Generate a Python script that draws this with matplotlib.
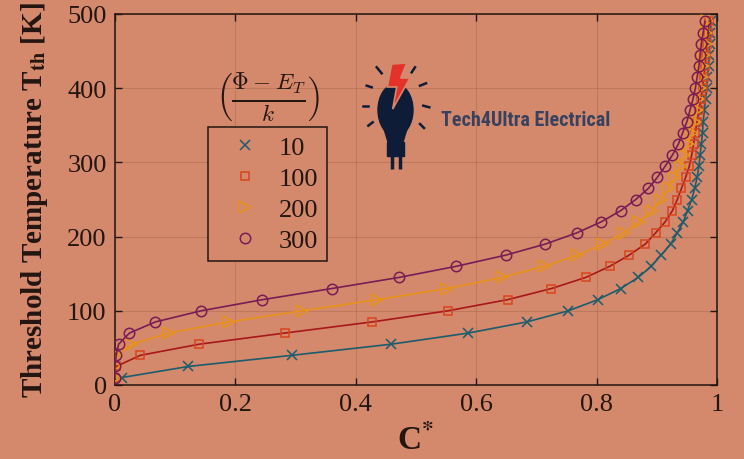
import numpy as np
import matplotlib
matplotlib.use("Agg")
import matplotlib.pyplot as plt
from matplotlib.lines import Line2D
from matplotlib.patches import Ellipse, Polygon, Rectangle

# threshold temperature grid (K), one marker per value
temps = [10, 25, 40, 55, 70, 85, 100, 115, 130, 145, 160, 175, 190, 205, 220, 235, 250,
         265, 280, 295, 310, 325, 340, 355, 370, 385, 400, 415, 430, 445, 460, 475, 490]

# C* for each (Phi - E_T)/k value
c_10 = [0.011, 0.122, 0.294, 0.459, 0.587, 0.684, 0.753, 0.802, 0.840, 0.869, 0.891,
        0.907, 0.923, 0.934, 0.944, 0.951, 0.958, 0.963, 0.967, 0.970, 0.972, 0.974,
        0.976, 0.977, 0.979, 0.981, 0.983, 0.984, 0.986, 0.987, 0.988, 0.989, 0.990]
c_100 = [0.000, 0.002, 0.042, 0.140, 0.282, 0.427, 0.553, 0.652, 0.725, 0.782, 0.822,
         0.854, 0.881, 0.898, 0.914, 0.926, 0.934, 0.941, 0.948, 0.954, 0.958, 0.961,
         0.964, 0.967, 0.970, 0.973, 0.976, 0.978, 0.980, 0.982, 0.984, 0.985, 0.987]
c_200 = [0.000, 0.000, 0.002, 0.028, 0.089, 0.189, 0.310, 0.436, 0.552, 0.643, 0.713,
         0.768, 0.811, 0.845, 0.871, 0.892, 0.907, 0.921, 0.931, 0.940, 0.946, 0.952,
         0.958, 0.963, 0.966, 0.969, 0.972, 0.975, 0.977, 0.979, 0.981, 0.982, 0.984]
c_300 = [0.000, 0.000, 0.002, 0.006, 0.024, 0.067, 0.143, 0.245, 0.360, 0.472, 0.567,
         0.649, 0.715, 0.767, 0.808, 0.840, 0.865, 0.886, 0.901, 0.914, 0.926, 0.936,
         0.943, 0.950, 0.955, 0.960, 0.964, 0.967, 0.970, 0.972, 0.974, 0.977, 0.980]

labels = ["10", "100", "200", "300"]
x_ticks = [0, 0.2, 0.4, 0.6, 0.8, 1]
y_ticks = [0, 100, 200, 300, 400, 500]

bg = "#d4896c"
ink = "#231510"
series = [
    (c_10, "x", "#1c5c6c", "#1c5c6c", 7),
    (c_100, "s", "#d8441c", "#a8171a", 6),
    (c_200, ">", "#e8921a", "#e8921a", 8.5),
    (c_300, "o", "#7a1c55", "#7a1c55", 7.5),
]

plt.rcParams["font.family"] = ["Liberation Serif", "DejaVu Serif"]
plt.rcParams["mathtext.fontset"] = "stix"

fig = plt.figure(figsize=(7.44, 4.6), dpi=100, facecolor=bg)
ax = fig.add_axes([115 / 744, 1 - 386 / 460, 602 / 744, 371 / 460], facecolor=bg)

for c, m, mcol, lcol, ms in series:
    ax.plot(c, temps, color=lcol, lw=1.2, marker=m, ms=ms, mec=mcol, mfc="none",
            mew=1.1, zorder=3)

ax.set_xlim(0, 1)
ax.set_ylim(0, 500)
ax.set_xticks(x_ticks)
ax.set_xticklabels(["0", "0.2", "0.4", "0.6", "0.8", "1"])
ax.set_yticks(y_ticks)
ax.tick_params(direction="in", length=5, width=1, labelsize=19, colors=ink,
               top=True, right=True, pad=6)
for s in ax.spines.values():
    s.set_color(ink)
    s.set_linewidth(1.1)
ax.grid(True, color="#a9654c", lw=0.8, alpha=0.45, zorder=0)
ax.set_axisbelow(True)

ax.set_xlabel(r"C$^{\mathbf{*}}$", fontsize=24, fontweight="bold", color=ink, labelpad=6)
ax.set_ylabel(r"Threshold Temperature T$_{\mathbf{th}}$ [K]", fontsize=21,
              fontweight="bold", color=ink, labelpad=12)

handles = [Line2D([], [], ls="none", marker=m, ms=ms, mec=mcol, mfc="none", mew=1.1)
           for c, m, mcol, lcol, ms in series]
leg = ax.legend(handles, labels, loc="upper left", bbox_to_anchor=(0.1545, 0.695),
                borderaxespad=0, fancybox=False, framealpha=1, facecolor=bg,
                edgecolor=ink, fontsize=19, borderpad=0.33, handlelength=2.15,
                handletextpad=0.2, labelspacing=0.28)
leg.get_frame().set_linewidth(1.1)
for t in leg.get_texts():
    t.set_color(ink)

fig.text(268 / 744, 1 - 98 / 460, r"$\left(\frac{\Phi - E_T}{k}\right)$",
         fontsize=24, ha="center", va="center", color=ink, math_fontfamily="cm")

# logo overlay in pixel coordinates
lg = fig.add_axes([0, 0, 1, 1], facecolor="none")
lg.set_xlim(0, 744)
lg.set_ylim(460, 0)
lg.axis("off")
navy = "#0f1c38"
lg.add_patch(Ellipse((395.5, 111), 35, 52, color=navy))
lg.add_patch(Polygon([(381, 120), (410, 120), (403, 143), (388, 143)], color=navy))
lg.add_patch(Rectangle((386.5, 143), 17, 14, color=navy))
for px in (391.5, 399.5):
    lg.plot([px, px], [157, 170], color=navy, lw=2.5, solid_capstyle="butt")
rays = [((376.7, 68.3), (381.7, 74.3)), ((366.7, 86.7), (371.7, 88.3)),
        ((363.3, 106.7), (368.3, 106.7)), ((368.3, 126.7), (372.7, 123.3)),
        ((411.7, 73.3), (415, 68.3)), ((420, 86.7), (426, 84.3)),
        ((423.3, 106.7), (429.3, 108.3)), ((420, 125), (424, 129))]
for (x0, y0), (x1, y1) in rays:
    lg.plot([x0, x1], [y0, y1], color=navy, lw=1.8)
lg.add_patch(Polygon([(391.7, 65), (406.7, 64), (400.7, 79), (410, 79), (392.7, 110),
                      (396.7, 88), (387.3, 88)], facecolor="#e2322a", edgecolor=bg,
                     lw=1.2))
lg.text(441, 121, "Tech4Ultra Electrical", fontsize=14.5, fontweight="bold",
        fontstretch="condensed", color="#38425f", ha="left", va="center",
        family=["Roboto Condensed", "Liberation Sans Narrow", "Liberation Sans"])

fig.savefig("out.png", dpi=100, facecolor=bg)
